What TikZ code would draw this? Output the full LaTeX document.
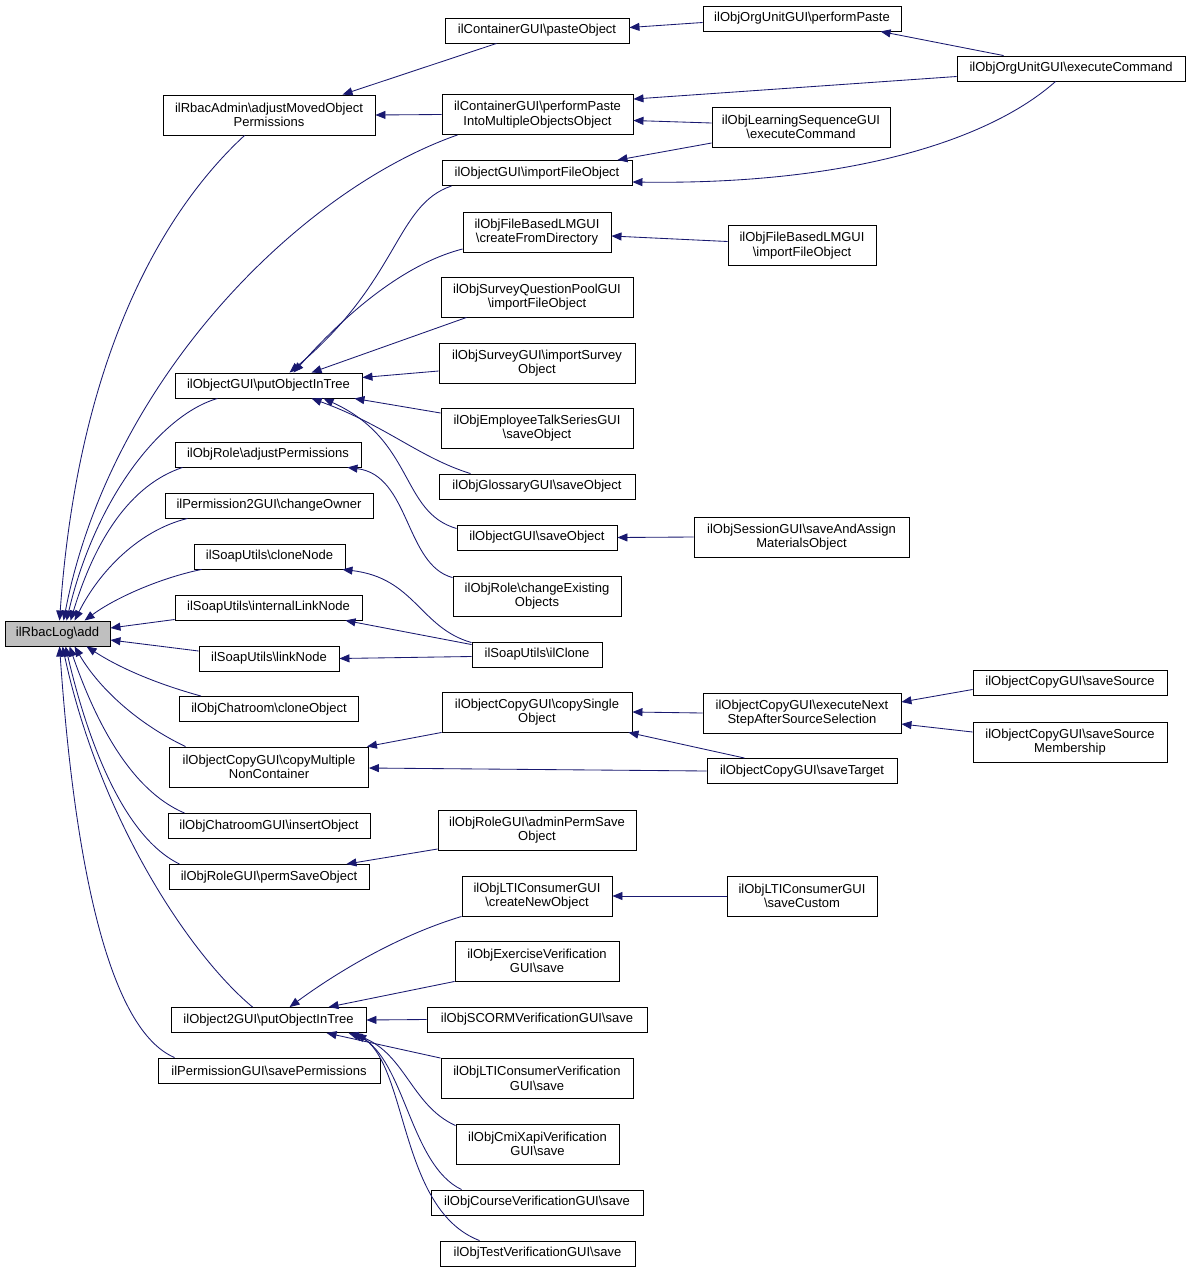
\documentclass[tikz,border=0pt]{standalone}
\usepackage{fontspec}
\setmainfont{Liberation Sans}
\usetikzlibrary{arrows.meta}
\definecolor{edgec}{RGB}{25,25,112}
\definecolor{addfill}{RGB}{191,191,191}
\newcommand{\BSL}{\textbackslash}
\tikzset{
 box/.style={draw=black, fill=white, line width=0.9pt, inner sep=0pt, align=center, font=\fontsize{13}{14.5}\selectfont},
 edge/.style={draw=edgec, line width=0.85pt, -{Triangle[length=10pt,width=8pt]}},
}
\begin{document}
\begin{tikzpicture}[x=1pt,y=-1pt]
\fill[white] (0,0) rectangle (1189,1272);
\useasboundingbox (0,0) rectangle (1189,1272);
% column 0
\node[box, fill=addfill, minimum width=105pt, minimum height=25pt] (add) at (57.5,633.5) {ilRbacLog\BSL add};
% column 1
\node[box, minimum width=212pt, minimum height=40pt] (adjm) at (269,115) {ilRbacAdmin\BSL adjustMovedObject\\Permissions};
\node[box, minimum width=187pt, minimum height=25pt] (pit) at (268.5,385.5) {ilObjectGUI\BSL putObjectInTree};
\node[box, minimum width=186pt, minimum height=25pt] (adjp) at (268,454.5) {ilObjRole\BSL adjustPermissions};
\node[box, minimum width=208pt, minimum height=25pt] (chown) at (269,505.5) {ilPermission2GUI\BSL changeOwner};
\node[box, minimum width=151pt, minimum height=25pt] (clonen) at (269.5,556.5) {ilSoapUtils\BSL cloneNode};
\node[box, minimum width=187pt, minimum height=25pt] (ilink) at (268.5,607.5) {ilSoapUtils\BSL internalLinkNode};
\node[box, minimum width=140pt, minimum height=25pt] (linkn) at (269,658.5) {ilSoapUtils\BSL linkNode};
\node[box, minimum width=179pt, minimum height=25pt] (clobj) at (269,709) {ilObjChatroom\BSL cloneObject};
\node[box, minimum width=199pt, minimum height=40pt] (cmult) at (269,767) {ilObjectCopyGUI\BSL copyMultiple\\NonContainer};
\node[box, minimum width=202pt, minimum height=25pt] (insobj) at (269,826) {ilObjChatroomGUI\BSL insertObject};
\node[box, minimum width=200pt, minimum height=25pt] (permsave) at (269,877) {ilObjRoleGUI\BSL permSaveObject};
\node[box, minimum width=195pt, minimum height=25pt] (o2pit) at (268.5,1020) {ilObject2GUI\BSL putObjectInTree};
\node[box, minimum width=222pt, minimum height=25pt] (saveperm) at (269,1070.5) {ilPermissionGUI\BSL savePermissions};
% column 2
\node[box, minimum width=184pt, minimum height=25pt] (paste) at (537,30.5) {ilContainerGUI\BSL pasteObject};
\node[box, minimum width=191pt, minimum height=40pt] (ppimo) at (537.5,114.5) {ilContainerGUI\BSL performPaste\\IntoMultipleObjectsObject};
\node[box, minimum width=190pt, minimum height=25pt] (ifo) at (537,173) {ilObjectGUI\BSL importFileObject};
\node[box, minimum width=148pt, minimum height=40pt] (cfd) at (537,232) {ilObjFileBasedLMGUI\\\BSL createFromDirectory};
\node[box, minimum width=192pt, minimum height=40pt] (sqp) at (537,297) {ilObjSurveyQuestionPoolGUI\\\BSL importFileObject};
\node[box, minimum width=196pt, minimum height=40pt] (survey) at (537,363) {ilObjSurveyGUI\BSL importSurvey\\Object};
\node[box, minimum width=192pt, minimum height=40pt] (emp) at (537,428) {ilObjEmployeeTalkSeriesGUI\\\BSL saveObject};
\node[box, minimum width=196pt, minimum height=25pt] (gloss) at (537,486.5) {ilObjGlossaryGUI\BSL saveObject};
\node[box, minimum width=160pt, minimum height=25pt] (osave) at (537,537.5) {ilObjectGUI\BSL saveObject};
\node[box, minimum width=168pt, minimum height=40pt] (chex) at (537,596) {ilObjRole\BSL changeExisting\\Objects};
\node[box, minimum width=130pt, minimum height=25pt] (ilclone) at (537,654.5) {ilSoapUtils\BSL ilClone};
\node[box, minimum width=190pt, minimum height=40pt] (csingle) at (537,712) {ilObjectCopyGUI\BSL copySingle\\Object};
\node[box, minimum width=198pt, minimum height=40pt] (adminperm) at (537,830) {ilObjRoleGUI\BSL adminPermSave\\Object};
\node[box, minimum width=150pt, minimum height=40pt] (ltinew) at (537,896) {ilObjLTIConsumerGUI\\\BSL createNewObject};
\node[box, minimum width=164pt, minimum height=40pt] (exver) at (537,961) {ilObjExerciseVerification\\GUI\BSL save};
\node[box, minimum width=220pt, minimum height=25pt] (scorm) at (537,1019.5) {ilObjSCORMVerificationGUI\BSL save};
\node[box, minimum width=192pt, minimum height=40pt] (ltiver) at (537,1078.5) {ilObjLTIConsumerVerification\\GUI\BSL save};
\node[box, minimum width=163pt, minimum height=40pt] (cmi) at (537.5,1144) {ilObjCmiXapiVerification\\GUI\BSL save};
\node[box, minimum width=212pt, minimum height=25pt] (course) at (537,1202.5) {ilObjCourseVerificationGUI\BSL save};
\node[box, minimum width=195pt, minimum height=25pt] (test) at (537.5,1253.5) {ilObjTestVerificationGUI\BSL save};
% column 3
\node[box, minimum width=198pt, minimum height=25pt] (oupaste) at (802,18.5) {ilObjOrgUnitGUI\BSL performPaste};
\node[box, minimum width=178pt, minimum height=40pt] (lsexec) at (801,127) {ilObjLearningSequenceGUI\\\BSL executeCommand};
\node[box, minimum width=148pt, minimum height=40pt] (fblmifo) at (802,245.5) {ilObjFileBasedLMGUI\\\BSL importFileObject};
\node[box, minimum width=215pt, minimum height=40pt] (session) at (801.5,537) {ilObjSessionGUI\BSL saveAndAssign\\MaterialsObject};
\node[box, minimum width=198pt, minimum height=40pt] (execnext) at (802,713) {ilObjectCopyGUI\BSL executeNext\\StepAfterSourceSelection};
\node[box, minimum width=190pt, minimum height=25pt] (savetarget) at (802,771) {ilObjectCopyGUI\BSL saveTarget};
\node[box, minimum width=150pt, minimum height=40pt] (savecustom) at (802,896) {ilObjLTIConsumerGUI\\\BSL saveCustom};
% column 4
\node[box, minimum width=228pt, minimum height=25pt] (ouexec) at (1071,68.5) {ilObjOrgUnitGUI\BSL executeCommand};
\node[box, minimum width=194pt, minimum height=25pt] (savesrc) at (1070,682.5) {ilObjectCopyGUI\BSL saveSource};
\node[box, minimum width=194pt, minimum height=40pt] (savesrcm) at (1070,742) {ilObjectCopyGUI\BSL saveSource\\Membership};
% edges into add
\draw[edge] ([xshift=82pt]adjm.south west) .. controls (180,195) and (80,330) .. ([xshift=55pt]add.north west);
\draw[edge] ([xshift=16pt]ppimo.south west) .. controls (300,190) and (110,380) .. ([xshift=59pt]add.north west);
\draw[edge] ([xshift=43pt]pit.south west) .. controls (160,415) and (95,500) .. ([xshift=62pt]add.north west);
\draw[edge] ([xshift=8pt]adjp.south west) .. controls (130,485) and (95,540) .. ([xshift=66pt]add.north west);
\draw[edge] ([xshift=23pt]chown.south west) .. controls (140,530) and (100,570) .. ([xshift=70pt]add.north west);
\draw[edge] ([xshift=8pt]clonen.south west) .. controls (160,578) and (115,598) .. ([xshift=80pt]add.north west);
\draw[edge] ([yshift=-12pt]ilink.west) -- ([yshift=5.5pt]add.east);
\draw[edge] ([yshift=7.5pt]linkn.west) -- ([yshift=-6.5pt]add.east);
\draw[edge] ([xshift=22pt]clobj.north west) .. controls (150,682) and (115,665) .. ([xshift=82pt]add.south west);
\draw[edge] ([xshift=16.5pt]cmult.north west) .. controls (140,725) and (100,690) .. ([xshift=70pt]add.south west);
\draw[edge] ([xshift=17pt]insobj.north west) .. controls (130,790) and (95,720) .. ([xshift=65pt]add.south west);
\draw[edge] ([xshift=11pt]permsave.north west) .. controls (120,835) and (85,730) .. ([xshift=61pt]add.south west);
\draw[edge] ([xshift=82pt]o2pit.north west) .. controls (190,955) and (100,820) .. ([xshift=58pt]add.south west);
\draw[edge] ([xshift=17pt]saveperm.north west) .. controls (110,1030) and (75,870) .. ([xshift=55pt]add.south west);
% adjm / paste / org unit
\draw[edge] ([xshift=52pt]paste.south west) -- ([xshift=180pt]adjm.north west);
\draw[edge] (ppimo.west) -- (adjm.east);
\draw[edge] ([yshift=-4pt]oupaste.west) -- ([yshift=3pt]paste.east);
\draw[edge] ([xshift=47pt]ouexec.north west) -- ([xshift=178pt]oupaste.south west);
\draw[edge] ([yshift=-8pt]ouexec.west) -- ([yshift=-5pt]ppimo.north east);
\draw[edge] ([xshift=99pt]ouexec.south west) .. controls (990,140) and (850,185) .. ([yshift=-9pt]ifo.east);
\draw[edge] ([yshift=4pt]lsexec.west) -- ([yshift=-6pt]ppimo.east);
\draw[edge] ([yshift=-16pt]lsexec.west) -- ([xshift=-15pt]ifo.north east);
\draw[edge] ([yshift=4pt]fblmifo.west) -- ([yshift=-4pt]cfd.east);
% into pit
\draw[edge] ([xshift=10pt]ifo.south west) .. controls (395,205) and (400,280) .. ([xshift=115pt]pit.north west);
\draw[edge] ([yshift=-17pt]cfd.west) .. controls (400,265) and (340,320) .. ([xshift=119pt]pit.north west);
\draw[edge] ([xshift=26pt]sqp.south west) -- ([xshift=137pt]pit.north west);
\draw[edge] ([yshift=-8pt]survey.west) -- ([yshift=8pt]pit.east);
\draw[edge] ([yshift=15pt]emp.west) -- ([xshift=-8pt]pit.south east);
\draw[edge] ([xshift=32pt]gloss.north west) .. controls (420,458) and (385,425) .. ([xshift=137pt]pit.south west);
\draw[edge] ([yshift=9pt]osave.west) .. controls (400,512) and (415,440) .. ([xshift=149pt]pit.south west);
\draw[edge] (session.west) -- (osave.east);
% role / soap
\draw[edge] ([yshift=-2pt]chex.north west) .. controls (405,565) and (410,475) .. ([xshift=-14pt]adjp.south east);
\draw[edge] ([yshift=-1pt]ilclone.north west) .. controls (420,628) and (415,578) .. ([xshift=-3pt]clonen.south east);
\draw[edge] ([yshift=-3pt]ilclone.north west) -- ([xshift=-17pt]ilink.south east);
\draw[edge] ([yshift=-2pt]ilclone.west) -- (linkn.east);
% copy
\draw[edge] (csingle.south west) -- ([xshift=-2pt]cmult.north east);
\draw[edge] (savetarget.west) -- ([yshift=-1pt]cmult.east);
\draw[edge] (execnext.west) -- (csingle.east);
\draw[edge] ([xshift=38pt]savetarget.north west) -- ([xshift=-4pt]csingle.south east);
\draw[edge] ([yshift=-7pt]savesrc.west) -- ([yshift=11pt]execnext.east);
\draw[edge] ([yshift=10pt]savesrcm.west) -- ([yshift=-11pt]execnext.east);
\draw[edge] ([yshift=-19pt]adminperm.west) -- ([xshift=-23pt]permsave.north east);
\draw[edge] (savecustom.west) -- (ltinew.east);
% into o2pit
\draw[edge] (ltinew.south west) .. controls (400,935) and (340,970) .. ([xshift=119pt]o2pit.north west);
\draw[edge] (exver.south west) -- ([xshift=158pt]o2pit.north west);
\draw[edge] (scorm.west) -- (o2pit.east);
\draw[edge] (ltiver.north west) -- ([xshift=156pt]o2pit.south west);
\draw[edge] ([yshift=-2pt]cmi.north west) .. controls (410,1105) and (405,1050) .. ([xshift=-18pt]o2pit.south east);
\draw[edge] ([xshift=31pt]course.north west) .. controls (410,1165) and (405,1060) .. ([xshift=-14pt]o2pit.south east);
\draw[edge] ([xshift=40pt]test.north west) .. controls (400,1210) and (408,1070) .. ([xshift=-10pt]o2pit.south east);
\end{tikzpicture}
\end{document}
